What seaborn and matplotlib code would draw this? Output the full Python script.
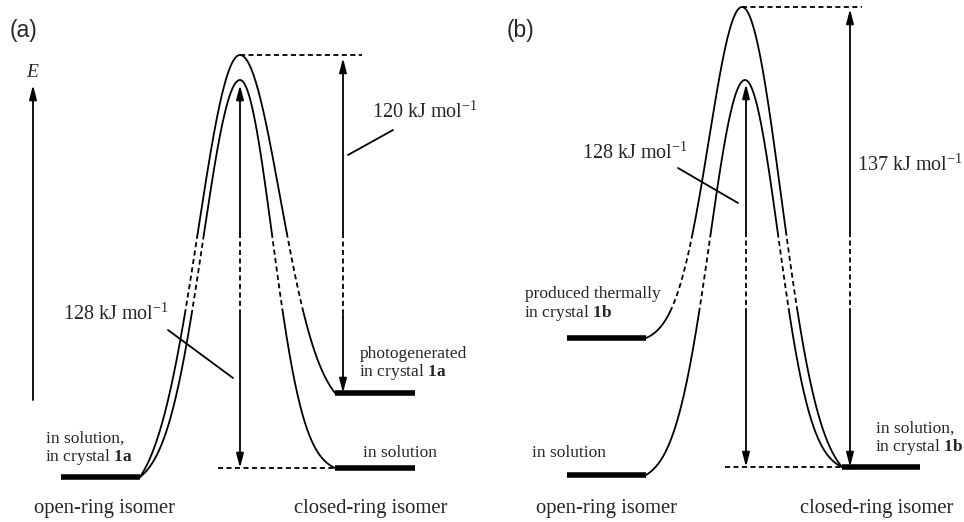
import numpy as np
import pandas as pd
import matplotlib
matplotlib.use("Agg")
import matplotlib.pyplot as plt
import seaborn as sns

# ---------------- data (diagram units: x to the right, energy drawn downward-inverted) ----
# panel (a)
a_level_x = [[61, 140], [335, 415], [335, 415]]      # open, closed photogenerated, closed solution
a_level_y = [477, 393, 468]
a_peak_x = [240, 240]                                 # outer (photogenerated), inner (solution)
a_peak_y = [55, 80]
a_sig_left = [42, 37]
a_sig_right = [40, 32]
a_curve_end = [1, 2]                                  # index of closed level reached
a_break = [233, 313]

# panel (b)
b_level_x = [[567, 646], [567, 646], [842, 920]]      # open thermal, open solution, closed
b_level_y = [338, 475, 467]
b_peak_x = [742, 745]
b_peak_y = [7, 80]
b_sig_left = [33, 35]
b_sig_right = [39, 33]
b_curve_start = [0, 1]
b_break = [233, 311]

# energy-gap arrows: x, top tip, bottom tip
a_arrows = [(240, 85, 468), (343, 58, 393)]
b_arrows = [(746, 84, 467), (850, 9, 467)]
a_arrow_break = [233, 315]
b_arrow_break = [232, 309]

barrier_labels = ["120 kJ mol$^{-1}$", "128 kJ mol$^{-1}$", "128 kJ mol$^{-1}$", "137 kJ mol$^{-1}$"]

# ---------------- style ----------------
sns.set_theme(style="white")
plt.rcParams["font.family"] = ["Liberation Serif", "DejaVu Serif"]
plt.rcParams["mathtext.fontset"] = "custom"
plt.rcParams["mathtext.rm"] = "Liberation Serif"
plt.rcParams["mathtext.it"] = "Liberation Serif:italic"
plt.rcParams["mathtext.bf"] = "Liberation Serif:bold"

fig = plt.figure(figsize=(9.64, 5.22), dpi=100)
ax = fig.add_axes([0, 0, 1, 1])
ax.set_xlim(0, 964)
ax.set_ylim(522, 0)
ax.set_axis_off()

LW = 1.3
DASH = (0, (2.8, 1.9))


def half(x0, y0, xp, yp, s, n=300):
    x = np.linspace(x0, xp, n)
    D = abs(xp - x0)
    g = np.exp(-0.5 * ((xp - x) / s) ** 2)
    gD = np.exp(-0.5 * (D / s) ** 2)
    f = (g - gD) / (1 - gD)
    return x, y0 + (yp - y0) * f


def curve(start, peak, end, sl, sr):
    x1, y1 = half(start[0], start[1], peak[0], peak[1], sl)
    x2, y2 = half(end[0], end[1], peak[0], peak[1], sr)
    return np.concatenate([x1, x2[::-1]]), np.concatenate([y1, y2[::-1]])


def draw_split(x, y, band):
    inside = (y >= band[0]) & (y <= band[1])
    starts = [0] + list(np.where(np.diff(inside.astype(int)) != 0)[0] + 1)
    ends = starts[1:] + [len(x)]
    for s, e in zip(starts, ends):
        seg = slice(max(s - 1, 0), e)
        df = pd.DataFrame({"x": x[seg], "y": y[seg]})
        ls = DASH if inside[s] else "-"
        sns.lineplot(data=df, x="x", y="y", sort=False, estimator=None,
                     color="black", lw=LW, linestyle=ls, ax=ax)


def levels(lx, ly):
    for xs, yv in zip(lx, ly):
        ax.plot(xs, [yv, yv], color="black", lw=4.0, solid_capstyle="butt")


HEAD = dict(arrowstyle="-|>,head_length=0.85,head_width=0.22", color="black",
            lw=LW, shrinkA=0, shrinkB=0, mutation_scale=10)


def vert_arrow(x, top, bot, band):
    ax.annotate("", xy=(x, top), xytext=(x, band[0]), arrowprops=HEAD)
    ax.annotate("", xy=(x, bot), xytext=(x, band[1]), arrowprops=HEAD)
    ax.plot([x, x], band, color="black", lw=LW, linestyle=DASH)


# ---------------- panel (a) ----------------
levels(a_level_x, a_level_y)
for i in range(2):
    start = (a_level_x[0][1], a_level_y[0])
    end = (a_level_x[a_curve_end[i]][0], a_level_y[a_curve_end[i]])
    cx, cy = curve(start, (a_peak_x[i], a_peak_y[i]), end, a_sig_left[i], a_sig_right[i])
    draw_split(cx, cy, a_break)

ax.plot([a_peak_x[0], 362], [a_peak_y[0]] * 2, color="black", lw=LW, linestyle=DASH)
ax.plot([218, a_level_x[2][0]], [a_level_y[2]] * 2, color="black", lw=LW, linestyle=DASH)
for (x, t, b) in a_arrows:
    vert_arrow(x, t, b, a_arrow_break)

ax.plot([348, 393], [155, 130], color="black", lw=LW)
ax.plot([168, 233], [330, 378], color="black", lw=LW)
ax.text(372, 118, barrier_labels[0], fontsize=14.5, va="baseline")
ax.text(63, 320, barrier_labels[1], fontsize=14.5, va="baseline")

# E axis
ax.annotate("", xy=(33, 85), xytext=(33, 400), arrowprops=HEAD)
ax.text(33, 77, "$E$", fontsize=14, ha="center", va="baseline")

fs = 12.5
ax.text(46, 443, "in solution,", fontsize=fs, va="baseline")
ax.text(45, 461, "in crystal $\\mathbf{1a}$", fontsize=fs, va="baseline")
ax.text(360, 358, "photogenerated", fontsize=fs, va="baseline")
ax.text(359, 376, "in crystal $\\mathbf{1a}$", fontsize=fs, va="baseline")
ax.text(363, 457, "in solution", fontsize=fs, va="baseline")
ax.text(104, 513, "open-ring isomer", fontsize=14.9, ha="center", va="baseline")
ax.text(371, 513, "closed-ring isomer", fontsize=14.9, ha="center", va="baseline")
ax.text(10, 37, "(a)", fontsize=16.5, va="baseline", family="Liberation Sans")

# ---------------- panel (b) ----------------
levels(b_level_x, b_level_y)
for i in range(2):
    s_i = b_curve_start[i]
    start = (b_level_x[s_i][1], b_level_y[s_i])
    end = (b_level_x[2][0], b_level_y[2])
    cx, cy = curve(start, (b_peak_x[i], b_peak_y[i]), end, b_sig_left[i], b_sig_right[i])
    draw_split(cx, cy, b_break)

ax.plot([b_peak_x[0], 862], [b_peak_y[0]] * 2, color="black", lw=LW, linestyle=DASH)
ax.plot([725, b_level_x[2][0]], [b_level_y[2]] * 2, color="black", lw=LW, linestyle=DASH)
for (x, t, b) in b_arrows:
    vert_arrow(x, t, b, b_arrow_break)

ax.plot([678, 738], [168, 203], color="black", lw=LW)
ax.text(582, 159, barrier_labels[2], fontsize=14.5, va="baseline")
ax.text(857, 171, barrier_labels[3], fontsize=14.5, va="baseline")

ax.text(525, 298, "produced thermally", fontsize=fs, va="baseline")
ax.text(524, 317, "in crystal $\\mathbf{1b}$", fontsize=fs, va="baseline")
ax.text(532, 457, "in solution", fontsize=fs, va="baseline")
ax.text(876, 433, "in solution,", fontsize=fs, va="baseline")
ax.text(875, 451, "in crystal $\\mathbf{1b}$", fontsize=fs, va="baseline")
ax.text(607, 513, "open-ring isomer", fontsize=14.9, ha="center", va="baseline")
ax.text(877, 513, "closed-ring isomer", fontsize=14.9, ha="center", va="baseline")
ax.text(507, 37, "(b)", fontsize=16.5, va="baseline", family="Liberation Sans")

fig.savefig("out.png", dpi=100, facecolor="white")
